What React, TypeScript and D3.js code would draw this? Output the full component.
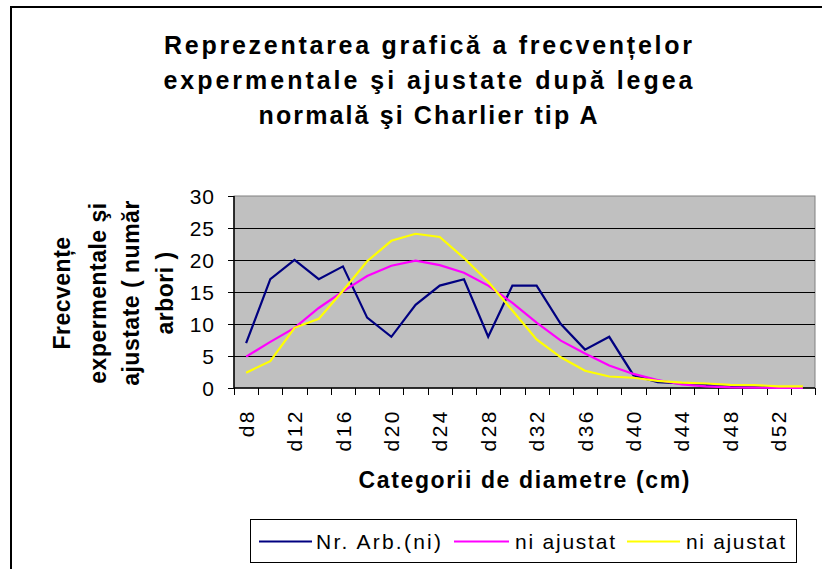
import React, { useRef, useEffect } from "react";
import * as d3 from "d3";

// categorii de diametre
const categories = [
  "d8", "d10", "d12", "d14", "d16", "d18", "d20", "d22", "d24", "d26", "d28", "d30",
  "d32", "d34", "d36", "d38", "d40", "d42", "d44", "d46", "d48", "d50", "d52", "d54",
];

// frecvente experimentale
const nrArb = [7, 17, 20, 17, 19, 11, 8, 13, 16, 17, 8, 16, 16, 10, 6, 8, 2, 0.9, 0.7, 0.5, 0.3, 0.2, 0.1, 0.1];
// ajustate dupa legea normala
const niNormal = [4.9, 7.2, 9.4, 12.5, 15.1, 17.5, 19.1, 19.9, 19.2, 18.0, 16.0, 13.3, 10.2, 7.4, 5.4, 3.5, 2.2, 1.25, 0.55, 0.25, 0.1, 0.05, 0.03, 0.02];
// ajustate Charlier tip A
const niCharlier = [2.4, 4.2, 9.4, 10.8, 15.2, 19.8, 23.0, 24.1, 23.6, 20.3, 16.6, 12.1, 7.6, 4.8, 2.7, 1.8, 1.6, 1.1, 0.85, 0.7, 0.5, 0.45, 0.25, 0.25];

const yTicks = [0, 5, 10, 15, 20, 25, 30];
const titleLines = [
  "Reprezentarea grafică a frecvențelor",
  "expermentale şi ajustate după legea",
  "normală şi Charlier tip A",
];
const yTitleLines = ["Frecvențe", "expermentale şi", "ajustate ( număr", "arbori )"];
const legendLabels = ["Nr. Arb.(ni)", "ni ajustat", "ni ajustat"];
const seriesColors = ["#000080", "#FF00FF", "#FFFF00"];

const FONT = "'Liberation Sans', Arial, sans-serif";

const App = () => {
  const svgRef = useRef<SVGSVGElement>(null);

  useEffect(() => {
    const width = 822;
    const height = 569;
    const plot = { left: 234, right: 815, top: 196, bottom: 388 };

    const svg = d3.select(svgRef.current).attr("width", width).attr("height", height).html("");

    svg.append("rect").attr("width", width).attr("height", height).attr("fill", "#fff");

    // chenarul graficului
    svg
      .append("rect")
      .attr("x", 11)
      .attr("y", 7)
      .attr("width", 900)
      .attr("height", 700)
      .attr("fill", "none")
      .attr("stroke", "#000")
      .attr("stroke-width", 2);

    // titlu
    const titleLen = [528, 529, 339];
    svg
      .append("g")
      .selectAll("text")
      .data(titleLines)
      .join("text")
      .attr("x", 428)
      .attr("y", (d, i) => 54 + i * 35)
      .attr("text-anchor", "middle")
      .attr("font-family", FONT)
      .attr("font-weight", "bold")
      .attr("font-size", 25)
      .attr("textLength", (d, i) => titleLen[i])
      .attr("lengthAdjust", "spacing")
      .text((d) => d);

    const xScale = d3.scaleBand().domain(categories).range([plot.left, plot.right]);
    const bw = xScale.bandwidth();
    const cx = (c: string) => (xScale(c) as number) + bw / 2;

    const yScale = d3.scaleLinear().domain([0, 30]).range([plot.bottom, plot.top]);

    // zona de desenare
    svg
      .append("rect")
      .attr("x", plot.left)
      .attr("y", plot.top)
      .attr("width", plot.right - plot.left)
      .attr("height", plot.bottom - plot.top)
      .attr("fill", "#C0C0C0")
      .attr("stroke", "#808080")
      .attr("stroke-width", 1);

    // linii de grila
    svg
      .append("g")
      .selectAll("line")
      .data(yTicks.filter((t) => t > 0 && t < 30))
      .join("line")
      .attr("x1", plot.left)
      .attr("x2", plot.right)
      .attr("y1", (d) => Math.round(yScale(d)) + 0.5)
      .attr("y2", (d) => Math.round(yScale(d)) + 0.5)
      .attr("stroke", "#000")
      .attr("stroke-width", 1);

    // axa Y
    svg
      .append("line")
      .attr("x1", plot.left)
      .attr("x2", plot.left)
      .attr("y1", plot.top)
      .attr("y2", plot.bottom)
      .attr("stroke", "#000")
      .attr("stroke-width", 1.5);
    const yAxis = svg.append("g");
    yAxis
      .selectAll("line")
      .data(yTicks)
      .join("line")
      .attr("x1", plot.left - 6)
      .attr("x2", plot.left)
      .attr("y1", (d) => Math.round(yScale(d)) + 0.5)
      .attr("y2", (d) => Math.round(yScale(d)) + 0.5)
      .attr("stroke", "#000");
    yAxis
      .selectAll("text")
      .data(yTicks)
      .join("text")
      .attr("x", 215)
      .attr("y", (d) => yScale(d))
      .attr("dy", "0.36em")
      .attr("text-anchor", "end")
      .attr("font-family", FONT)
      .attr("font-size", 21)
      .attr("letter-spacing", 1)
      .text((d) => d);

    // axa X
    svg
      .append("line")
      .attr("x1", plot.left)
      .attr("x2", plot.right)
      .attr("y1", plot.bottom)
      .attr("y2", plot.bottom)
      .attr("stroke", "#000")
      .attr("stroke-width", 1.5);
    const xAxis = svg.append("g");
    const edges = categories.map((c) => xScale(c) as number).concat([plot.right]);
    xAxis
      .selectAll("line")
      .data(edges)
      .join("line")
      .attr("x1", (d) => Math.round(d) + 0.5)
      .attr("x2", (d) => Math.round(d) + 0.5)
      .attr("y1", plot.bottom)
      .attr("y2", plot.bottom + 7)
      .attr("stroke", "#000");
    xAxis
      .selectAll("text")
      .data(categories.filter((c, i) => i % 2 === 0))
      .join("text")
      .attr("transform", (d) => `translate(${cx(d)},${plot.bottom + 21}) rotate(-90)`)
      .attr("dy", "0.36em")
      .attr("text-anchor", "end")
      .attr("font-family", FONT)
      .attr("font-size", 21)
      .attr("letter-spacing", 2.5)
      .text((d) => d);

    // titlu axa X
    svg
      .append("text")
      .attr("x", 524)
      .attr("y", 488)
      .attr("text-anchor", "middle")
      .attr("font-family", FONT)
      .attr("font-weight", "bold")
      .attr("font-size", 23)
      .attr("textLength", 331)
      .attr("lengthAdjust", "spacing")
      .text("Categorii de diametre (cm)");

    // titlu axa Y
    const yTitleX = [62, 98, 131, 165];
    svg
      .append("g")
      .selectAll("text")
      .data(yTitleLines)
      .join("text")
      .attr("transform", (d, i) => `translate(${yTitleX[i]},293) rotate(-90)`)
      .attr("dy", "0.36em")
      .attr("text-anchor", "middle")
      .attr("font-family", FONT)
      .attr("font-weight", "bold")
      .attr("font-size", 23)
      .attr("letter-spacing", 0.5)
      .text((d) => d);

    // serii
    const line = d3
      .line<number>()
      .x((d, i) => cx(categories[i]))
      .y((d) => yScale(d));
    [nrArb, niNormal, niCharlier].forEach((s, k) => {
      svg
        .append("path")
        .datum(s)
        .attr("d", line)
        .attr("fill", "none")
        .attr("stroke", seriesColors[k])
        .attr("stroke-width", 2.2)
        .attr("stroke-linejoin", "miter");
    });

    // legenda
    const legend = svg.append("g");
    legend
      .append("rect")
      .attr("x", 250.5)
      .attr("y", 519.5)
      .attr("width", 546)
      .attr("height", 43)
      .attr("fill", "#fff")
      .attr("stroke", "#000")
      .attr("stroke-width", 1);
    const legLine = [
      [259, 312],
      [454, 509],
      [627, 680],
    ];
    const legText = [
      [316, 125],
      [515, 100],
      [686, 99],
    ];
    legendLabels.forEach((lab, k) => {
      legend
        .append("line")
        .attr("x1", legLine[k][0])
        .attr("x2", legLine[k][1])
        .attr("y1", 541.5)
        .attr("y2", 541.5)
        .attr("stroke", seriesColors[k])
        .attr("stroke-width", 2);
      legend
        .append("text")
        .attr("x", legText[k][0])
        .attr("y", 549)
        .attr("font-family", FONT)
        .attr("font-size", 21)
        .attr("textLength", legText[k][1])
        .attr("lengthAdjust", "spacing")
        .text(lab);
    });
  }, []);

  return <svg ref={svgRef} style={{ position: "absolute", left: 0, top: 0, display: "block" }} />;
};

export default App;
